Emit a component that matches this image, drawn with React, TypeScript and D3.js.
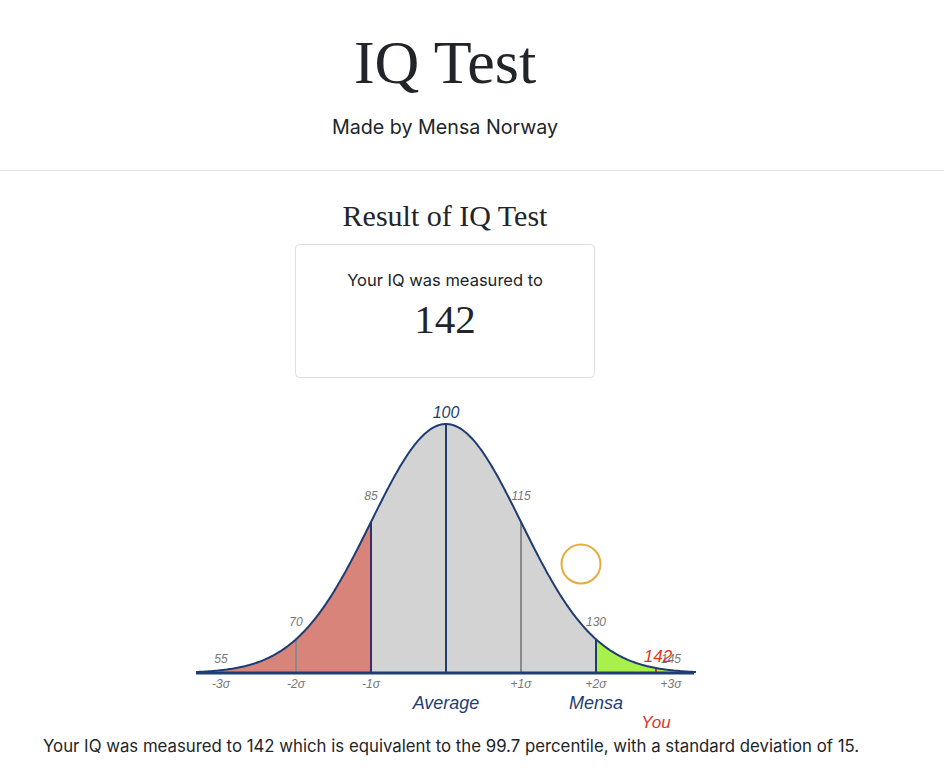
import React from "react";
import * as d3 from "d3";

const mean = 100;
const sd = 15;
const score = 142;
const percentile = 99.7;
const domainIQ = [50, 150];
const markValues = [55, 70, 85, 100, 115, 130, 145];
const markLabelOffsets = [7, 13, 22, 6, 22, 13, 7];
const sigmaValues = [55, 70, 85, 115, 130, 145];
const sigmaLabels = ["-3σ", "-2σ", "-1σ", "+1σ", "+2σ", "+3σ"];
const lineValues = [70, 85, 100, 115, 130];
const lineColors = ["#8a8a8a", "#3d2b6b", "#1f3d73", "#8a8a8a", "#1f3d73"];
const regionFrom = [50, 85, 130];
const regionTo = [85, 130, 150];
const regionColors = ["#d9847b", "#d3d3d3", "#a8f04a"];

const NAVY = "#1f3d73";
const GREY = "#777777";
const RED = "#d9381e";
const SANS = "'Liberation Sans', Arial, sans-serif";
const SERIF = "'Liberation Serif', 'Times New Roman', serif";
const UI = "Inter, 'Liberation Sans', sans-serif";

const pdf = (v: number) => Math.exp(-0.5 * ((v - mean) / sd) ** 2);

export default function App() {
  const W = 944;
  const H = 770;
  const x = d3.scaleLinear().domain(domainIQ).range([196, 696]);
  const y = d3.scaleLinear().domain([0, 1]).range([673, 424]);
  const pts = (a: number, b: number) => d3.range(a, b + 0.001, 0.25).concat([b]);
  const area = d3
    .area<number>()
    .x((d) => x(d))
    .y0(y(0))
    .y1((d) => y(pdf(d)));
  const line = d3
    .line<number>()
    .x((d) => x(d))
    .y((d) => y(pdf(d)));
  const cx = 445;
  return (
    <svg width={W} height={H} style={{ position: "absolute", left: 0, top: 0 }}>
      <rect width={W} height={H} fill="#fff" />
      <text x={cx} y={83} textAnchor="middle" fontFamily={SERIF} fontSize={62} fill="#212529">
        IQ Test
      </text>
      <text x={cx} y={134} textAnchor="middle" fontFamily={UI} fontSize={19.7} fill="#212529">
        Made by Mensa Norway
      </text>
      <line x1={0} x2={W} y1={170.5} y2={170.5} stroke="#e5e5e5" strokeWidth={1} />
      <text x={cx} y={226} textAnchor="middle" fontFamily={SERIF} fontSize={30} fill="#212529">
        Result of IQ Test
      </text>
      <rect x={295.5} y={244.5} width={299} height={133} rx={4} fill="#fff" stroke="#dedede" />
      <text x={cx} y={286} textAnchor="middle" fontFamily={UI} fontSize={16.5} fill="#212529">
        Your IQ was measured to
      </text>
      <text x={cx} y={333} textAnchor="middle" fontFamily={SERIF} fontSize={41} fill="#212529">
        {score}
      </text>

      {regionFrom.map((f, i) => (
        <path key={"r" + i} d={area(pts(f, regionTo[i])) || ""} fill={regionColors[i]} />
      ))}
      {lineValues.map((v, i) => (
        <line
          key={"l" + i}
          x1={x(v)}
          x2={x(v)}
          y1={y(0)}
          y2={y(pdf(v))}
          stroke={lineColors[i]}
          strokeWidth={2}
        />
      ))}
      <line x1={x(score)} x2={x(score)} y1={y(0)} y2={y(pdf(score))} stroke={RED} strokeWidth={2} />
      <path d={line(pts(domainIQ[0], domainIQ[1])) || ""} fill="none" stroke={NAVY} strokeWidth={2} />
      <line x1={x(domainIQ[0])} x2={x(domainIQ[1]) - 2} y1={y(0)} y2={y(0)} stroke={NAVY} strokeWidth={3} />

      {markValues.map((v, i) =>
        v === mean ? (
          <text
            key={"m" + i}
            x={x(v)}
            y={y(pdf(v)) - markLabelOffsets[i]}
            textAnchor="middle"
            fontFamily={SANS}
            fontStyle="italic"
            fontSize={16}
            fill={NAVY}
          >
            {v}
          </text>
        ) : (
          <text
            key={"m" + i}
            x={x(v)}
            y={y(pdf(v)) - markLabelOffsets[i]}
            textAnchor="middle"
            fontFamily={SANS}
            fontStyle="italic"
            fontSize={12}
            fill={GREY}
          >
            {v}
          </text>
        )
      )}
      {sigmaValues.map((v, i) => (
        <text
          key={"s" + i}
          x={x(v)}
          y={688}
          textAnchor="middle"
          fontFamily={SANS}
          fontStyle="italic"
          fontSize={12}
          fill={GREY}
        >
          {sigmaLabels[i]}
        </text>
      ))}
      <text x={x(mean)} y={709} textAnchor="middle" fontFamily={SANS} fontStyle="italic" fontSize={18} fill={NAVY}>
        Average
      </text>
      <text x={x(130)} y={709} textAnchor="middle" fontFamily={SANS} fontStyle="italic" fontSize={18} fill={NAVY}>
        Mensa
      </text>
      <text x={x(score) + 2} y={662} textAnchor="middle" fontFamily={SANS} fontStyle="italic" fontSize={17} fill={RED}>
        {score}
      </text>
      <text x={x(score)} y={728} textAnchor="middle" fontFamily={SANS} fontStyle="italic" fontSize={17} fill={RED}>
        You
      </text>
      <circle cx={581} cy={564} r={19.5} fill="none" stroke="#e8ac3c" strokeWidth={2} />

      <text x={43} y={752} fontFamily={UI} fontSize={16.8} fill="#212529">
        {`Your IQ was measured to ${score} which is equivalent to the ${percentile} percentile, with a standard deviation of ${sd}.`}
      </text>
    </svg>
  );
}
